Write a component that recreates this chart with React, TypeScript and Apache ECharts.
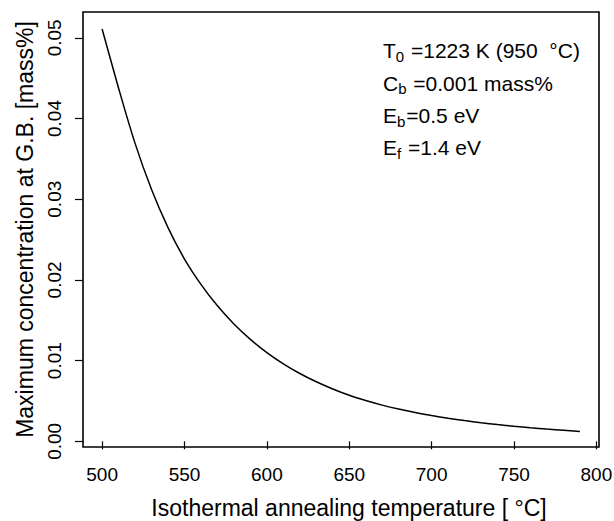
import React, { useEffect, useRef } from "react";
import * as echarts from "echarts";

const temperatures = [500, 510, 520, 530, 540, 550, 560, 570, 580, 590, 600, 610, 620, 630, 640, 650, 660, 670, 680, 690, 700, 710, 720, 730, 740, 750, 760, 770, 780, 790];
const concentrations = [0.0511, 0.04376, 0.03692, 0.03121, 0.02649, 0.02259, 0.01945, 0.01679, 0.01454, 0.01263, 0.0110, 0.00961, 0.00841, 0.00738, 0.00649, 0.00571, 0.00506, 0.00449, 0.0040, 0.00357, 0.0032, 0.00287, 0.00258, 0.00231, 0.00208, 0.00187, 0.00169, 0.00152, 0.00137, 0.00123];
const xTicks = [500, 550, 600, 650, 700, 750, 800];
const yTicks = [0, 0.01, 0.02, 0.03, 0.04, 0.05];
const annotations = [
  "{m|T}{s|0}{m| =1223 K (950  °C)}",
  "{m|C}{s|b}{m| =0.001 mass%}",
  "{m|E}{s|b}{m|=0.5 eV}",
  "{m|E}{s|f}{m| =1.4 eV}",
];

const FONT = "'Liberation Sans', Arial, Helvetica, sans-serif";

export default function App() {
  const ref = useRef<HTMLDivElement>(null);
  useEffect(() => {
    if (!ref.current) return;
    const chart = echarts.init(ref.current, null, { renderer: "svg" });
    const annY = [53, 85.5, 118, 150];
    chart.setOption({
      animation: false,
      backgroundColor: "#fff",
      textStyle: { fontFamily: FONT },
      grid: {
        left: 83,
        right: 15,
        top: 12,
        bottom: 74,
        outerBoundsMode: "none",
        containLabel: false,
        show: true,
        borderColor: "#000",
        borderWidth: 1.6,
        backgroundColor: "transparent",
      },
      xAxis: {
        type: "value",
        min: 488.4,
        max: 801.6,
        name: "Isothermal annealing temperature [ °C]",
        nameLocation: "middle",
        nameGap: 49,
        nameMoveOverlap: false,
        nameTextStyle: { fontSize: 23, color: "#000", fontFamily: FONT, padding: [0, 0, 0, 16] },
        axisLine: { show: false },
        axisTick: { show: true, length: 8, customValues: xTicks, lineStyle: { color: "#000", width: 1.2 } },
        axisLabel: { customValues: xTicks, fontSize: 19, color: "#000", margin: 18, fontFamily: FONT },
        splitLine: { show: false },
      },
      yAxis: {
        type: "value",
        min: -0.0007,
        max: 0.0532,
        name: "Maximum concentration at G.B. [mass%]",
        nameLocation: "middle",
        nameGap: 47,
        nameMoveOverlap: false,
        nameRotate: 90,
        nameTextStyle: { fontSize: 23, color: "#000", fontFamily: FONT },
        axisLine: { show: false },
        axisTick: { show: true, length: 8, customValues: yTicks, lineStyle: { color: "#000", width: 1.2 } },
        axisLabel: {
          customValues: yTicks,
          rotate: 90,
          fontSize: 19,
          color: "#000",
          margin: 19,
          fontFamily: FONT,
          formatter: (v: number) => v.toFixed(2),
        },
        splitLine: { show: false },
      },
      series: [
        {
          type: "line",
          data: temperatures.map((t, i) => [t, concentrations[i]]),
          showSymbol: false,
          smooth: 0.3,
          lineStyle: { color: "#000", width: 1.5 },
        },
      ],
      graphic: annotations.map((txt, i) => ({
        type: "text",
        left: 383,
        top: annY[i] - 13,
        style: {
          text: txt,
          rich: {
            m: { fontSize: 21, fontFamily: FONT, fill: "#000", lineHeight: 24 },
            s: { fontSize: 15, fontFamily: FONT, fill: "#000", padding: [11, 1, 0, 0] },
          },
        },
      })),
    });
    return () => chart.dispose();
  }, []);
  return <div ref={ref} style={{ position: "fixed", left: 0, top: 0, width: 614, height: 521 }} />;
}
